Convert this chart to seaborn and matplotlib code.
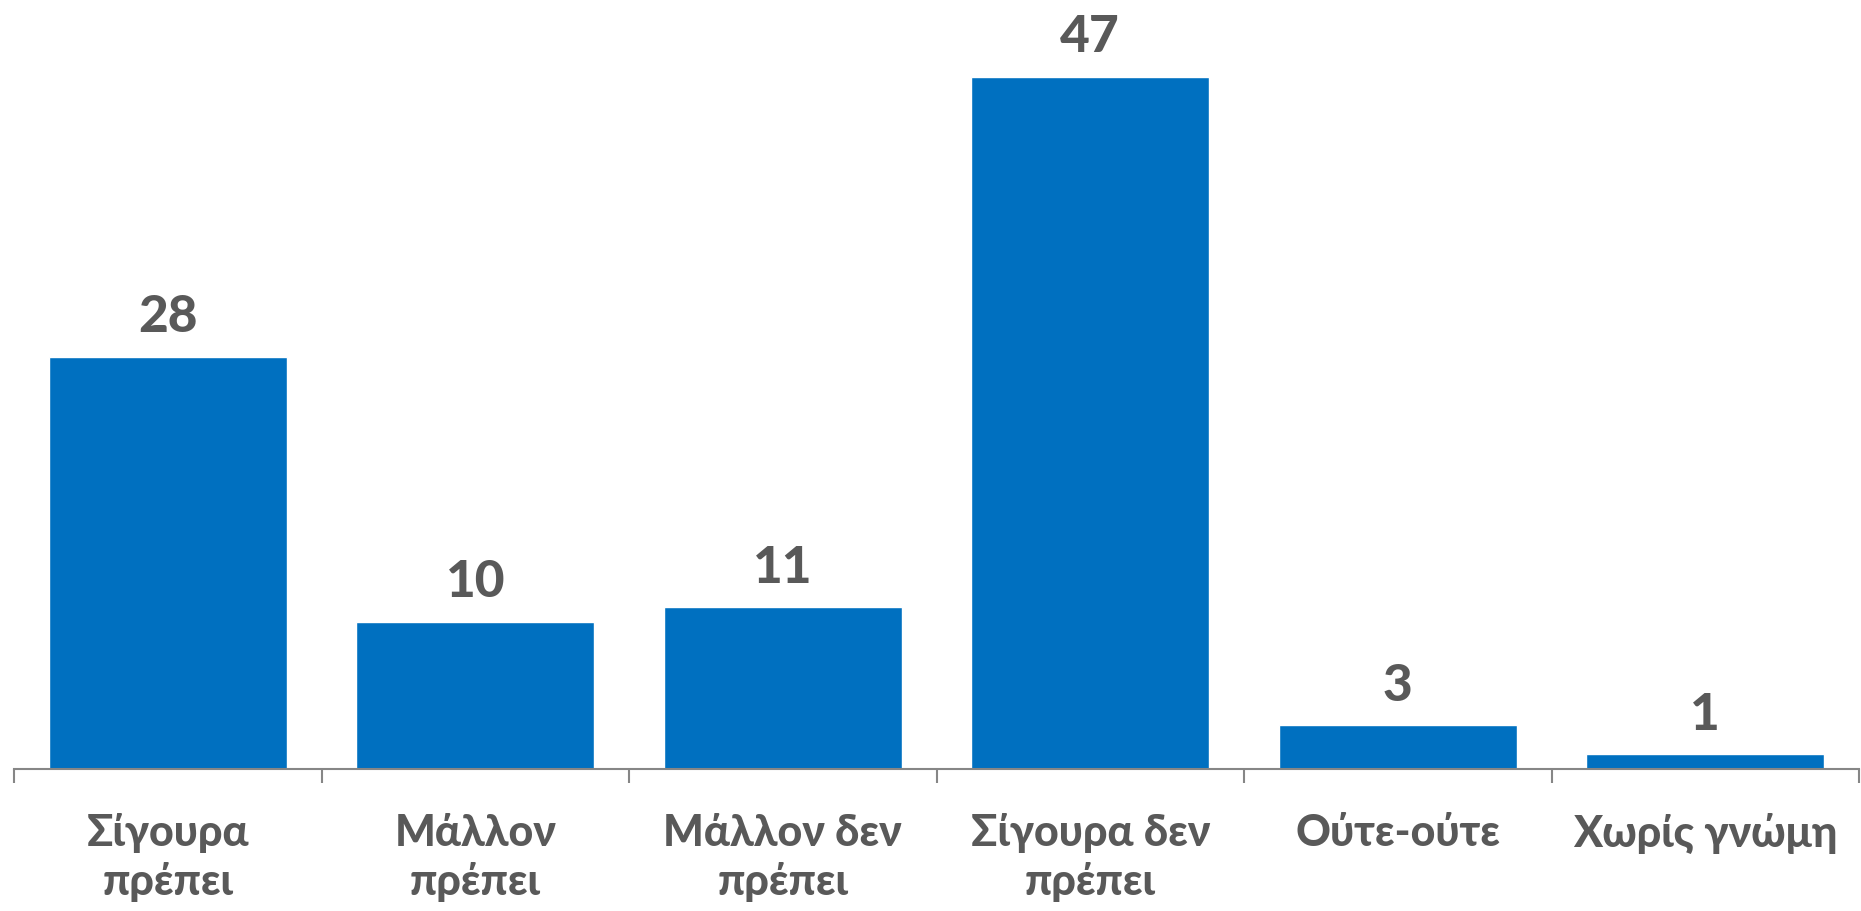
import matplotlib
matplotlib.use("Agg")
import matplotlib.pyplot as plt
import seaborn as sns
import pandas as pd
import numpy as np

# Answer categories and counts
categories = ["Σίγουρα\nπρέπει", "Μάλλον\nπρέπει", "Μάλλον δεν\nπρέπει",
              "Σίγουρα δεν\nπρέπει", "Ούτε-ούτε", "Χωρίς γνώμη"]
values = [28, 10, 11, 47, 3, 1]

df = pd.DataFrame({"cat": categories, "val": values})

sns.set_style("white")
plt.rcParams["font.family"] = ["Lato", "DejaVu Sans"]

text_color = "#595959"
bar_color = "#0070C0"

fig = plt.figure(figsize=(18.61, 9.11), dpi=100)
ax = fig.add_axes([14 / 1861, 142 / 911, 1845 / 1861, 769 / 911])

sns.barplot(data=df, x="cat", y="val", color=bar_color, saturation=1,
            width=0.775, ax=ax)

ax.set_xlim(-0.5, 5.5)
ax.set_ylim(0, 52.2)
ax.bar_label(ax.containers[0], padding=11, fontsize=37, fontweight="black",
             color=text_color)

for s in ["top", "right", "left"]:
    ax.spines[s].set_visible(False)
ax.spines["bottom"].set_color("#868686")
ax.spines["bottom"].set_linewidth(1.5)

ax.set_yticks([])
ax.set_xlabel("")
ax.set_ylabel("")
ax.set_xticks(np.arange(len(categories)))
ax.set_xticklabels(categories, fontsize=31, fontweight="black", color=text_color,
                   linespacing=1.25, va="top")
ax.tick_params(axis="x", which="major", length=0, pad=32)
ax.set_xticks(np.arange(-0.5, len(categories)), minor=True)
ax.tick_params(axis="x", which="minor", bottom=True, length=10, width=1.5,
               color="#868686", direction="out")

fig.savefig("out.png", dpi=100)
